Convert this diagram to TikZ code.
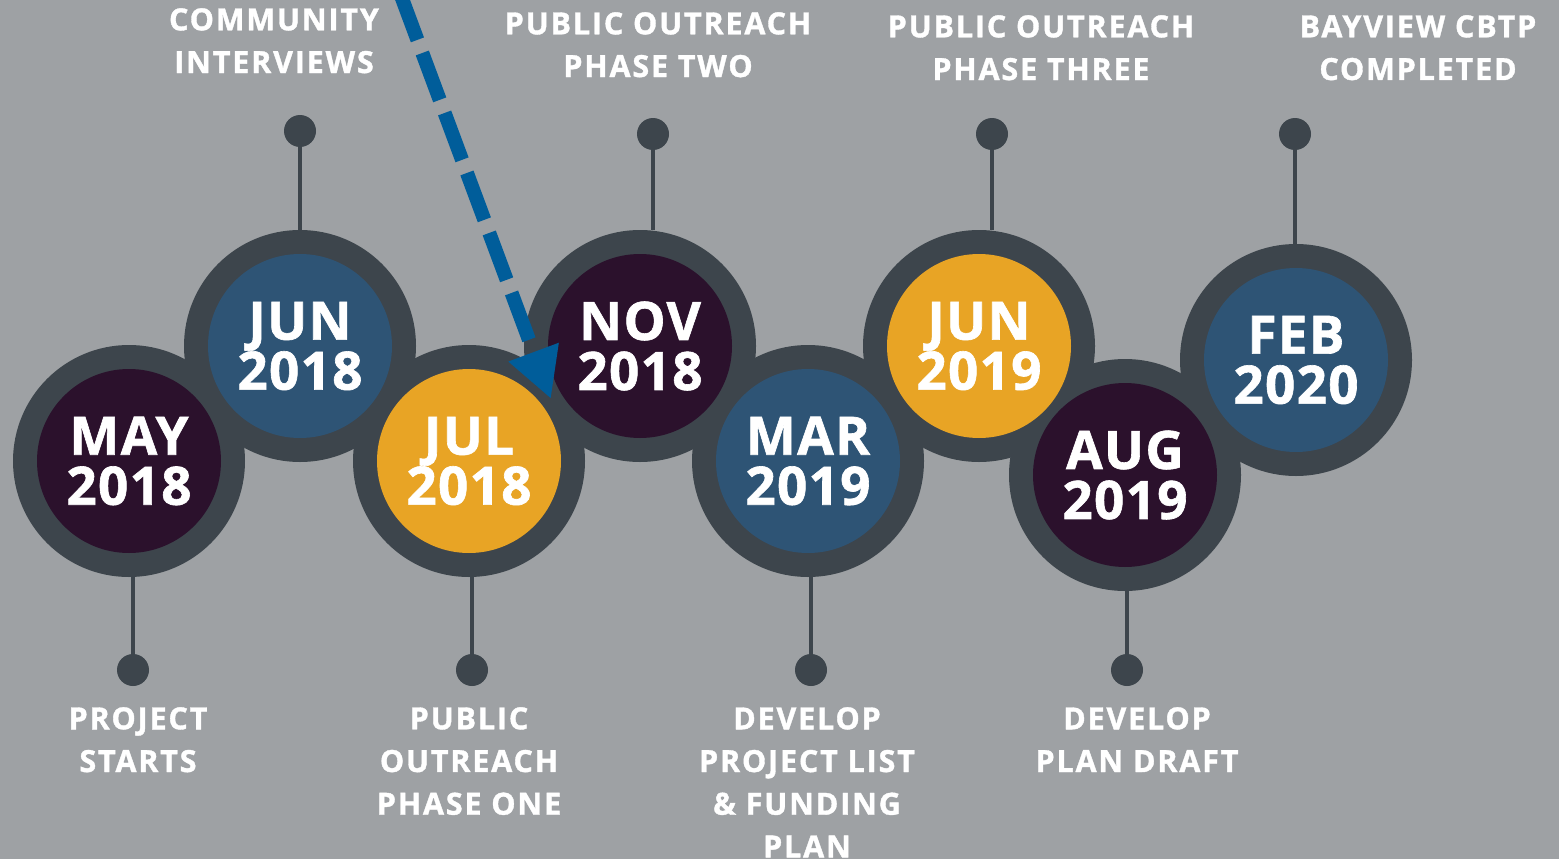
\documentclass[tikz,border=0pt]{standalone}
\usepackage{fontspec}
\setmainfont{Open Sans}
\newfontfamily\lblfont[LetterSpace=6,FakeBold=1.2]{Open Sans}
\newfontfamily\datefont[LetterSpace=2.5,FakeBold=1.2]{Open Sans}
\usetikzlibrary{arrows.meta}
\definecolor{bgc}{HTML}{9EA1A4}
\definecolor{ringc}{HTML}{3D454C}
\definecolor{purplec}{HTML}{2B112C}
\definecolor{bluec}{HTML}{2E5475}
\definecolor{yellowc}{HTML}{E8A425}
\definecolor{arrowc}{HTML}{005D9A}
\begin{document}
\begin{tikzpicture}[x=1pt,y=-1pt,
  ring/.style={circle, fill=ringc, minimum size=232pt, inner sep=0pt},
  disc/.style={circle, minimum size=184pt, inner sep=0pt, text=white, align=center,
    font=\datefont\fontsize{53pt}{50pt}\selectfont\bfseries},
  dot/.style={circle, fill=ringc, minimum size=32pt, inner sep=0pt},
  stem/.style={draw=ringc, line width=4.5pt},
  lbl/.style={text=white, align=center, inner sep=0pt, anchor=north,
    font=\lblfont\fontsize{30.5pt}{42.7pt}\selectfont\bfseries},
  arrowline/.style={draw=arrowc, line width=14pt, dash pattern=on 50pt off 14pt,
    -{Triangle[length=50pt,width=50pt]}}
]
\useasboundingbox (0,0) rectangle (1559,859);
\fill[bgc] (0,0) rectangle (1559,859);

% outer rings
\node[ring] (may) at (129,461) {};
\node[ring] (jun18) at (300,346) {};
\node[ring] (jul) at (469,461) {};
\node[ring] (nov) at (640,346) {};
\node[ring] (mar) at (808,461) {};
\node[ring] (jun19) at (979,346) {};
\node[ring] (aug) at (1125,475) {};
\node[ring] (feb) at (1296,360) {};

% inner discs with dates
\node[disc, fill=purplec] (mayd) at (may) {MAY\\2018};
\node[disc, fill=bluec] (jun18d) at (jun18) {JUN\\2018};
\node[disc, fill=yellowc] (juld) at (jul) {JUL\\2018};
\node[disc, fill=purplec] (novd) at (nov) {NOV\\2018};
\node[disc, fill=bluec] (mard) at (mar) {MAR\\2019};
\node[disc, fill=yellowc] (jun19d) at (jun19) {JUN\\2019};
\node[disc, fill=purplec] (augd) at (aug) {AUG\\2019};
\node[disc, fill=bluec] (febd) at (feb) {FEB\\2020};

% dots
\node[dot] (jun18dot) at (300,131) {};
\node[dot] (novdot) at (653,134) {};
\node[dot] (jun19dot) at (992,134) {};
\node[dot] (febdot) at (1295,134) {};
\node[dot] (maydot) at (133,670) {};
\node[dot] (juldot) at (472,670) {};
\node[dot] (mardot) at (811,670) {};
\node[dot] (augdot) at (1127,670) {};

% stems
\draw[stem] (jun18dot) -- (jun18dot |- jun18.north);
\draw[stem] (novdot) -- (novdot |- nov.north);
\draw[stem] (jun19dot) -- (jun19dot |- jun19.north);
\draw[stem] (febdot) -- (febdot |- feb.north);
\draw[stem] (maydot) -- (maydot |- may.south);
\draw[stem] (juldot) -- (juldot |- jul.south);
\draw[stem] (mardot) -- (mardot |- mar.south);
\draw[stem] (augdot) -- (augdot |- aug.south);

% labels
\node[lbl] (jun18lbl) at (274,8) {COMMUNITY\\INTERVIEWS};
\node[lbl] (novlbl) at (658,12) {PUBLIC OUTREACH\\PHASE TWO};
\node[lbl] (jun19lbl) at (1041,15) {PUBLIC OUTREACH\\PHASE THREE};
\node[lbl] (feblbl) at (1418,15) {BAYVIEW CBTP\\COMPLETED};
\node[lbl] (maylbl) at (138,707) {PROJECT\\STARTS};
\node[lbl] (jullbl) at (469,707) {PUBLIC\\OUTREACH\\PHASE ONE};
\node[lbl] (marlbl) at (807,707) {DEVELOP\\PROJECT LIST\\\& FUNDING\\PLAN};
\node[lbl] (auglbl) at (1137,707) {DEVELOP\\PLAN DRAFT};

% arrow
\coordinate (astart) at (400,-7);
\coordinate (atip) at (551,399);
\draw[arrowline] (astart) -- (atip);
\end{tikzpicture}
\end{document}
